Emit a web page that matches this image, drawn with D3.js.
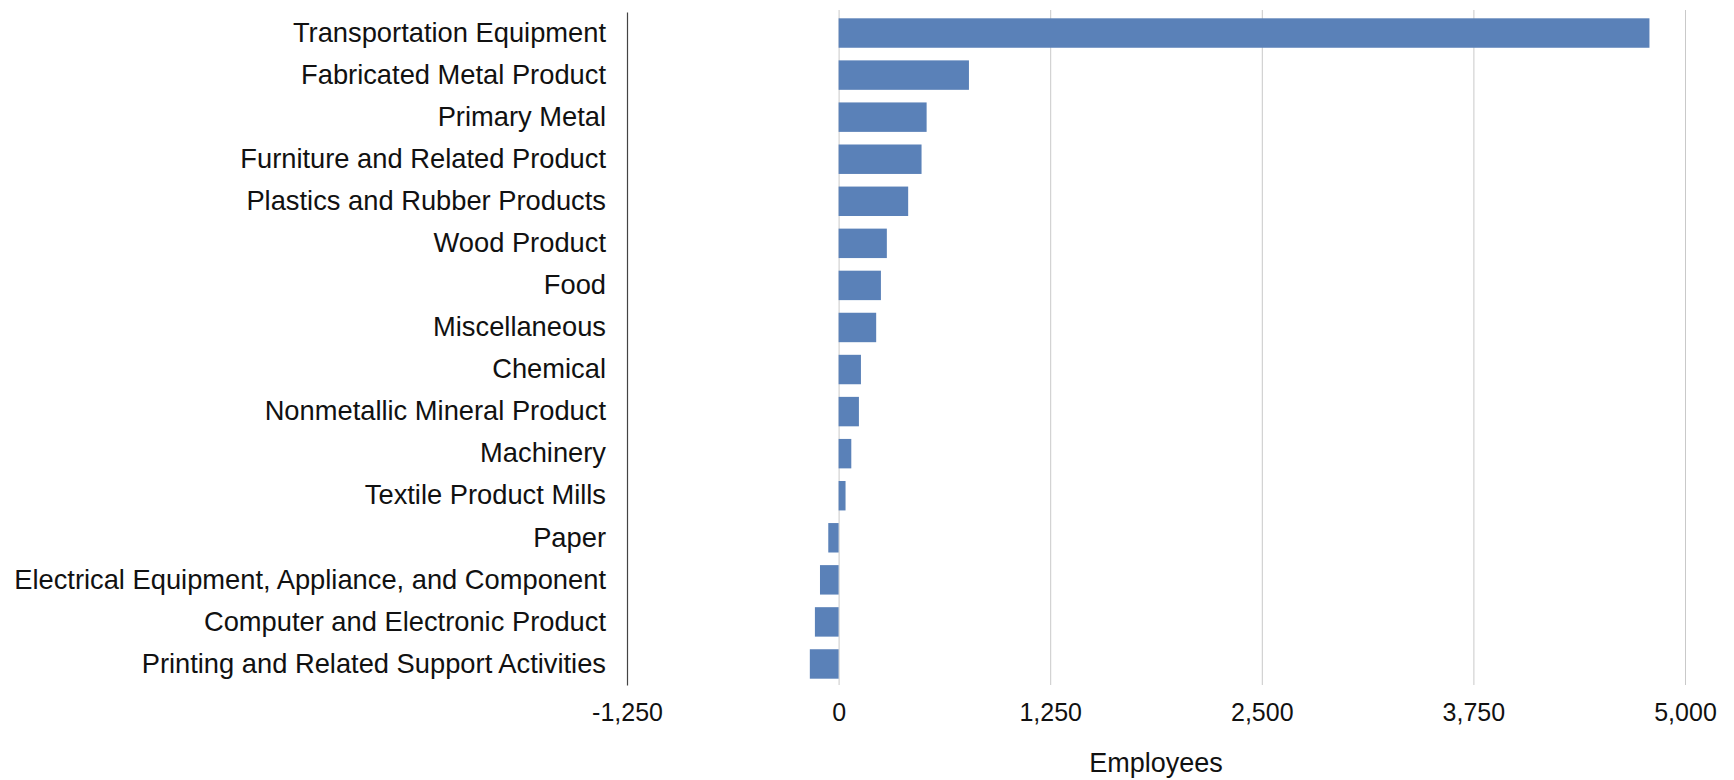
<!DOCTYPE html>
<html>
<head>
<meta charset="utf-8">
<script src="https://cdn.jsdelivr.net/npm/d3@7"></script>
<style>
  body { margin: 0; background: #fff; }
  text { font-family: "Helvetica Neue", Helvetica, Arial, "Liberation Sans", sans-serif; fill: #111; }
</style>
</head>
<body>
<div id="chart"></div>
<script>
// industries, top to bottom
var industries = [
  "Transportation Equipment",
  "Fabricated Metal Product",
  "Primary Metal",
  "Furniture and Related Product",
  "Plastics and Rubber Products",
  "Wood Product",
  "Food",
  "Miscellaneous",
  "Chemical",
  "Nonmetallic Mineral Product",
  "Machinery",
  "Textile Product Mills",
  "Paper",
  "Electrical Equipment, Appliance, and Component",
  "Computer and Electronic Product",
  "Printing and Related Support Activities"
];
var employees = [4790, 770, 520, 490, 411, 285, 250, 222, 132, 120, 75, 41, -61, -110, -140, -170];
var xTicks = [-1250, 0, 1250, 2500, 3750, 5000];
var xTitle = "Employees";

var width = 1734;
var height = 780;
var margin = {top: 12, right: 49, bottom: 95, left: 627};

var svg = d3.select('#chart')
    .append('svg')
    .attr('width', width)
    .attr('height', height);

var data = industries.map(function(d, i) {
    return {name: d, value: employees[i]};
});

var scaleX = d3.scaleLinear()
    .domain([-1250, 5000])
    .range([margin.left, width - margin.right]);

var scaleY = d3.scaleBand()
    .domain(industries)
    .range([margin.top, height - margin.bottom])
    .paddingInner(0.3)
    .paddingOuter(0.15);

// gridlines
svg.append('g')
    .selectAll('line')
    .data(xTicks.filter(function(d) { return d !== -1250; }))
    .enter()
    .append('line')
    .attr('x1', function(d) { return scaleX(d) + 0.5; })
    .attr('x2', function(d) { return scaleX(d) + 0.5; })
    .attr('y1', margin.top - 2)
    .attr('y2', height - margin.bottom)
    .attr('stroke', '#c9c9c9')
    .attr('stroke-width', 1);

// bars
svg.append('g')
    .selectAll('rect')
    .data(data)
    .enter()
    .append('rect')
    .attr('x', function(d) { return scaleX(Math.min(0, d.value)); })
    .attr('y', function(d) { return scaleY(d.name); })
    .attr('width', function(d) { return Math.abs(scaleX(d.value) - scaleX(0)); })
    .attr('height', scaleY.bandwidth())
    .attr('fill', '#5a81b8');

// x axis (labels only), plain hyphen for negatives
var fmt = d3.format(',');
var x_axis = d3.axisBottom(scaleX)
    .tickValues(xTicks)
    .tickFormat(function(d) { return fmt(d).replace('\u2212', '-'); })
    .tickSize(0)
    .tickPadding(18);

var gx = svg.append('g')
    .attr('transform', 'translate(0,' + (height - margin.bottom) + ')')
    .call(x_axis);
gx.select('.domain').remove();
gx.selectAll('text')
    .style('font-size', '25px')
    .attr('fill', '#111');

// y axis
var y_axis = d3.axisLeft(scaleY)
    .tickSize(0)
    .tickPadding(21);

var gy = svg.append('g')
    .attr('transform', 'translate(' + margin.left + ',0)')
    .call(y_axis);
gy.select('.domain')
    .attr('stroke', '#444')
    .attr('stroke-width', 1.2);
gy.selectAll('text')
    .style('font-size', '27.3px')
    .attr('fill', '#111');

// axis title
svg.append('text')
    .attr('x', (scaleX.range()[0] + scaleX.range()[1]) / 2)
    .attr('y', 763)
    .attr('dy', '0.35em')
    .attr('text-anchor', 'middle')
    .style('font-size', '27px')
    .text(xTitle);
</script>
</body>
</html>
